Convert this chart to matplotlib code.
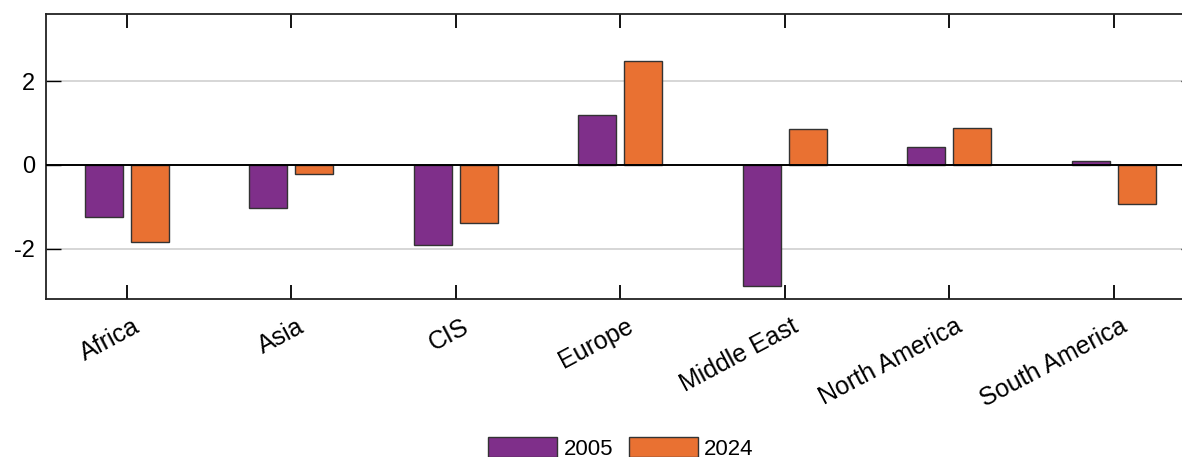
import numpy as np
import matplotlib
matplotlib.use("Agg")
import matplotlib.pyplot as plt
from matplotlib.transforms import ScaledTranslation

regions = ["Africa", "Asia", "CIS", "Europe", "Middle East", "North America", "South America"]
vals_2005 = [-1.24, -1.02, -1.90, 1.19, -2.90, 0.43, 0.10]
vals_2024 = [-1.83, -0.21, -1.38, 2.48, 0.86, 0.88, -0.93]
series_labels = ["2005", "2024"]

plt.rcParams['font.family'] = ['Liberation Sans', 'DejaVu Sans']

fig = plt.figure(figsize=(11.82, 4.57), dpi=100)
ax = fig.add_axes([46/1182, 1 - 299/457, (1196 - 46)/1182, (299 - 14)/457])

x = np.arange(1, len(regions) + 1)
w = 0.23
off = 0.14
ax.bar(x - off, vals_2005, w, color='#7F2F8A', edgecolor='#333333', linewidth=1.0,
       label=series_labels[0], zorder=3)
ax.bar(x + off, vals_2024, w, color='#E97132', edgecolor='#333333', linewidth=1.0,
       label=series_labels[1], zorder=3)

ax.axhline(0, color='black', linewidth=1.4, zorder=4)
for yv in (-2, 2):
    ax.axhline(yv, color='#d0d0d0', linewidth=1.2, zorder=1)

ax.set_xlim(0.51, 7.5)
ax.set_ylim(-3.2, 3.6)
ax.set_yticks([-2, 0, 2])
ax.set_yticklabels(["-2", "0", "2"])
ax.set_xticks(x)
ax.set_xticklabels(regions, rotation=28, ha='right', va='top', rotation_mode='anchor')
ax.tick_params(axis='x', direction='in', length=10, width=1.3, top=True, labelsize=18, pad=11)
ax.tick_params(axis='y', direction='in', length=11, width=1.0, right=True, labelsize=17, pad=8)
for lab in ax.get_xticklabels():
    lab.set_transform(lab.get_transform() + ScaledTranslation(0.06, 0, fig.dpi_scale_trans))
for sp in ax.spines.values():
    sp.set_linewidth(1.3)
    sp.set_color('#222222')

fig.legend(loc='upper center', bbox_to_anchor=((46 + 1196) / 2 / 1182, 1 - 417/457), ncol=2,
           frameon=False, fontsize=16, handlelength=3.1, handleheight=1.0,
           columnspacing=0.7, handletextpad=0.3)

fig.savefig("out.png", dpi=100)
